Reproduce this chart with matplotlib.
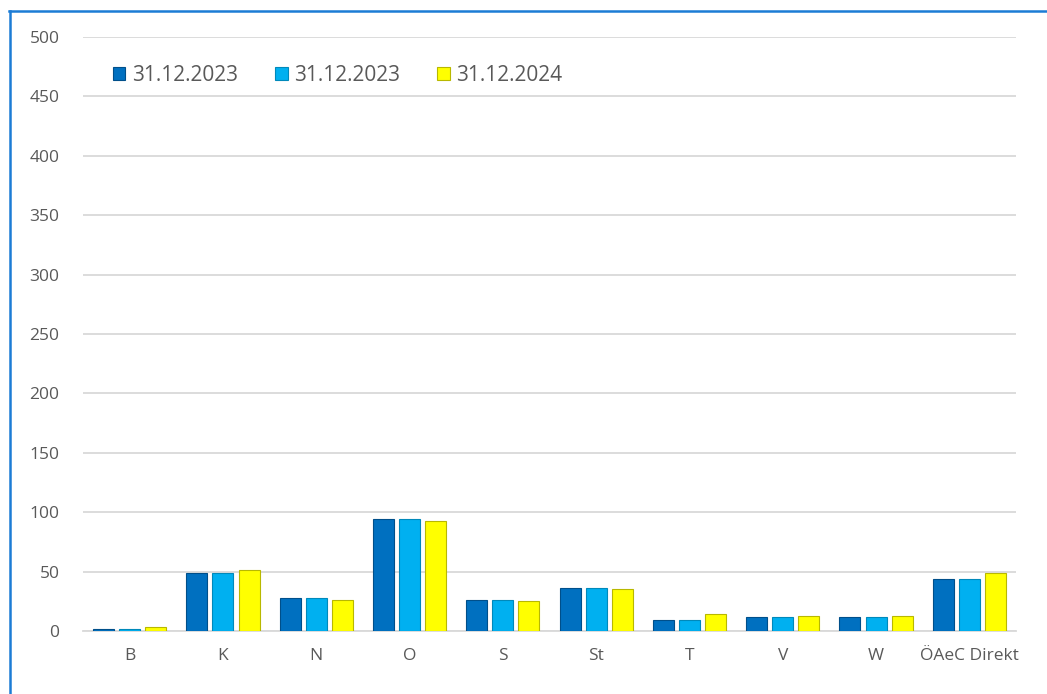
import numpy as np
import matplotlib.pyplot as plt
from matplotlib.lines import Line2D

categories = ['B', 'K', 'N', 'O', 'S', 'St', 'T', 'V', 'W', 'ÖAeC Direkt']
series_names = ['31.12.2023', '31.12.2023', '31.12.2024']
vals_a = [2, 49, 28, 94, 26, 36, 9, 12, 12, 44]
vals_b = [2, 49, 28, 94, 26, 36, 9, 12, 12, 44]
vals_c = [3, 51, 26, 93, 25, 35, 14, 13, 13, 49]
colors = ['#0070C0', '#00B0F0', '#FFFF00']
edges = ['#004F8A', '#0089BA', '#B8B800']

plt.rcParams['font.family'] = ['Open Sans', 'DejaVu Sans']

fig = plt.figure(figsize=(10.47, 6.94), dpi=100)
ax = fig.add_axes([83 / 1047, 1 - 631 / 694, (1016 - 83) / 1047, (631 - 37) / 694])

x = np.arange(len(categories))
w = 0.225
step = 0.28
for i, vals in enumerate([vals_a, vals_b, vals_c]):
    ax.bar(x + (i - 1) * step, vals, width=w, color=colors[i], edgecolor=edges[i],
           linewidth=0.8, label=series_names[i], zorder=3)

ax.set_xlim(-0.5, len(categories) - 0.5)
ax.set_ylim(0, 500)
ax.set_yticks(range(0, 501, 50))
ax.set_xticks(x)
ax.set_xticklabels(categories)
ax.grid(axis='y', color='#D9D9D9', linewidth=1.3, zorder=0)
ax.set_axisbelow(True)
for s in ['top', 'right', 'left']:
    ax.spines[s].set_visible(False)
ax.spines['bottom'].set_color('#D9D9D9')
ax.spines['bottom'].set_linewidth(1.3)
ax.tick_params(axis='both', length=0, labelsize=12.5, labelcolor='#595959')
ax.tick_params(axis='y', pad=17)
ax.tick_params(axis='x', pad=12)

leg = ax.legend(loc='upper left', bbox_to_anchor=(0.012, 0.985), ncol=3, frameon=False,
                fontsize=15, handlelength=0.6, handleheight=0.6, handletextpad=0.3,
                columnspacing=1.8, labelcolor='#595959')

# blue frame (top and left edges visible)
fig.add_artist(Line2D([9 / 1047, 1], [1 - 11 / 694, 1 - 11 / 694], transform=fig.transFigure,
                      color='#1C7CD5', linewidth=1.8))
fig.add_artist(Line2D([9.5 / 1047, 9.5 / 1047], [0, 1 - 11 / 694], transform=fig.transFigure,
                      color='#1C7CD5', linewidth=1.8))

fig.savefig('out.png', dpi=100)
